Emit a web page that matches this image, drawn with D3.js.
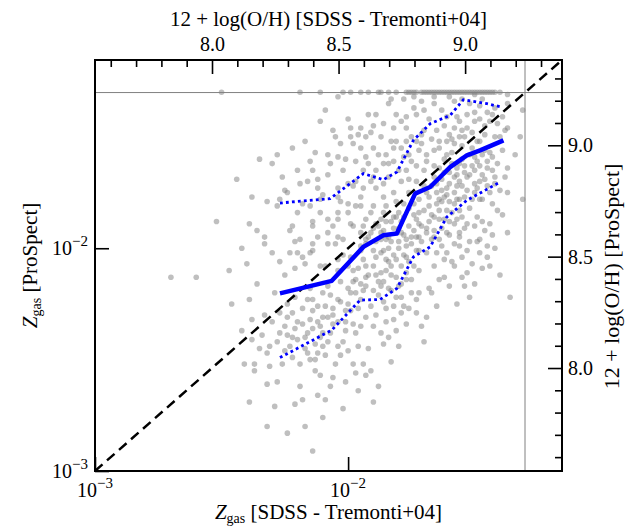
<!DOCTYPE html>
<meta charset="utf-8">
<style>
body { margin: 0; background: #fff; }
text { font-family: "Liberation Serif", "Times New Roman", serif; fill: #000; }
</style>

<svg width="638" height="526"></svg>

<script src="https://d3js.org/d3.v7.min.js"></script>
<script>
// galaxies: [log10 Zgas SDSS (Tremonti+04), log10 Zgas ProSpect]
var galaxies = [
  // pile-up at the ProSpect ceiling (Z = 0.05)
  [-2.50,-1.30],[-2.19,-1.30],[-2.11,-1.30],[-2.02,-1.30],[-1.99,-1.30],[-1.95,-1.30],[-1.88,-1.30],
  [-1.87,-1.30],[-1.81,-1.30],[-1.77,-1.30],[-1.76,-1.30],[-1.74,-1.30],[-1.73,-1.30],[-1.71,-1.30],
  [-1.70,-1.30],[-1.69,-1.30],[-1.67,-1.30],[-1.66,-1.30],[-1.64,-1.30],[-1.63,-1.30],[-1.62,-1.30],
  [-1.60,-1.30],[-1.59,-1.30],[-1.58,-1.30],[-1.56,-1.30],[-1.55,-1.30],[-1.54,-1.30],[-1.53,-1.30],
  [-1.52,-1.30],[-1.51,-1.30],[-1.50,-1.30],[-1.49,-1.30],[-1.48,-1.30],[-1.47,-1.30],[-1.45,-1.30],
  [-1.44,-1.30],[-1.43,-1.30],[-1.40,-1.30],[-1.75,-1.30],[-1.68,-1.30],[-1.65,-1.30],[-1.61,-1.30],
  [-1.57,-1.30],[-1.46,-1.30],[-1.42,-1.30],[-1.84,-1.30],[-1.92,-1.30],
  [-1.60,-1.32],[-1.55,-1.33],[-1.50,-1.31],[-1.66,-1.32],[-1.71,-1.34],[-1.47,-1.33],[-1.78,-1.33],
  // upper part of the cloud
  [-2.04,-1.32],[-2.11,-1.43],[-2.06,-1.47],[-2.17,-1.52],[-2.28,-1.58],[-2.04,-1.59],[-1.99,-1.46],
  [-1.95,-1.46],[-1.91,-1.48],[-1.93,-1.50],[-1.89,-1.40],[-1.84,-1.35],[-1.81,-1.40],[-1.83,-1.33],
  [-1.74,-1.32],[-1.74,-1.37],[-1.73,-1.40],[-1.70,-1.38],[-1.66,-1.35],[-1.68,-1.42],[-1.63,-1.38],
  [-1.61,-1.41],[-1.58,-1.34],[-1.56,-1.43],[-1.52,-1.35],[-1.50,-1.39],[-1.48,-1.42],[-1.45,-1.39],
  [-1.43,-1.40],[-1.41,-1.44],[-1.37,-1.31],[-1.37,-1.35],[-1.31,-1.38],[-1.32,-1.50],[-1.37,-1.46],
  [-1.34,-1.58],[-1.37,-1.64],[-1.37,-1.75],[-1.31,-1.78],[-1.37,-1.93],[-1.48,-1.96],[-1.44,-1.89],
  [-1.41,-1.83],[-1.53,-1.89],[-1.56,-1.83],[-1.57,-1.78],[-1.50,-1.75],[-1.48,-1.70],[-1.43,-1.65],
  [-1.45,-1.61],[-1.50,-1.59],[-1.56,-1.62],[-1.58,-1.68],[-1.61,-1.73],[-1.64,-1.64],[-1.66,-1.56],
  [-1.61,-1.52],[-1.56,-1.50],[-1.53,-1.46],[-1.58,-1.46],[-1.70,-1.47],[-1.73,-1.52],[-1.72,-1.56],
  [-1.75,-1.61],[-1.69,-1.61],[-1.79,-1.55],[-1.82,-1.61],[-1.77,-1.65],[-1.73,-1.70],[-1.69,-1.75],
  [-1.66,-1.68],[-1.64,-1.78],[-1.61,-1.83],[-1.66,-1.86],[-1.72,-1.84],[-1.74,-1.80],[-1.78,-1.80],
  [-1.81,-1.86],[-1.82,-1.75],[-1.86,-1.77],[-1.89,-1.73],[-1.91,-1.70],[-1.89,-1.65],[-1.94,-1.65],
  [-1.97,-1.70],[-1.95,-1.77],[-1.91,-1.84],[-1.97,-1.81],[-2.00,-1.80],[-1.99,-1.89],[-1.94,-1.90],
  [-1.89,-1.89],[-1.85,-1.96],[-1.79,-1.93],[-1.77,-1.99],[-1.69,-1.93],[-1.64,-1.96],[-1.61,-1.93],
  [-1.56,-1.95],[-1.53,-2.01],[-1.45,-1.99],[-1.61,-2.02],[-1.69,-2.02],[-1.95,-1.99],[-2.02,-1.96],
  [-2.06,-1.90],[-2.08,-1.87],[-2.04,-1.84],[-2.11,-1.84],[-2.14,-1.90],[-2.22,-1.90],[-2.19,-1.96],
  [-2.14,-2.01],[-2.18,-2.04],[-2.33,-1.95],[-2.28,-1.81],[-2.20,-1.84],[-2.27,-1.78],[-2.32,-1.79],
  [-2.24,-1.75],[-2.19,-1.71],[-2.12,-1.73],[-2.12,-1.69],[-2.08,-1.67],[-2.14,-1.65],[-2.20,-1.65],
  [-2.26,-1.68],[-2.00,-1.71],[-2.04,-1.73],[-2.02,-1.65],[-1.97,-1.61],[-1.93,-1.59],[-1.95,-1.55],
  [-1.90,-1.55],[-1.87,-1.50],[-1.90,-1.45],[-1.85,-1.58],[-1.82,-1.46],[-1.77,-1.46],[-1.79,-1.43],
  [-1.77,-1.41],[-1.98,-1.53],[-1.99,-1.50],[-1.81,-1.52],[-1.77,-1.52],[-2.03,-1.53],[-2.08,-1.58],
  [-2.15,-1.61],[-2.04,-1.77],[-2.11,-1.78],[-2.15,-1.81],[-2.44,-1.69],
  [-2.30,-1.62],[-2.25,-1.74],[-2.22,-1.55],[-2.18,-1.80],[-2.16,-1.70],[-2.13,-1.57],[-2.10,-1.76],
  [-2.07,-1.62],[-2.05,-1.50],[-2.03,-1.79],[-2.01,-1.60],[-1.98,-1.72],[-1.96,-1.49],[-2.09,-1.38],
  [-2.00,-1.42],[-1.92,-1.40],[-1.86,-1.44],[-2.14,-1.88],[-2.23,-1.92],[-2.38,-1.77],[-2.42,-2.00],
  [-2.47,-2.10],[-2.52,-1.88],[-2.35,-1.60],
  // lower part of the cloud
  [-2.70,-2.13],[-2.60,-2.13],[-2.39,-1.89],[-2.36,-1.92],[-2.33,-1.98],[-2.40,-2.07],[-2.36,-2.16],
  [-2.46,-2.25],[-2.39,-2.23],[-2.38,-2.32],[-2.42,-2.37],[-2.34,-2.39],[-2.38,-2.41],[-2.41,-2.52],
  [-2.37,-2.52],[-2.37,-2.55],[-2.31,-2.53],[-2.32,-2.47],[-2.31,-2.44],[-2.27,-2.38],[-2.24,-2.39],
  [-2.25,-2.35],[-2.21,-2.36],[-2.20,-2.41],[-2.25,-2.46],[-2.22,-2.49],[-2.32,-2.61],[-2.39,-2.69],
  [-2.29,-2.71],[-2.21,-2.70],[-2.18,-2.68],[-2.32,-2.80],[-2.24,-2.83],[-2.17,-2.80],[-2.14,-2.91],
  [-2.10,-2.76],[-2.09,-2.68],[-2.07,-2.62],[-2.01,-2.60],[-1.90,-2.69],[-1.88,-2.62],[-1.93,-2.57],
  [-1.91,-2.55],[-1.83,-2.51],[-1.98,-2.52],[-1.94,-2.52],[-2.03,-2.48],[-2.04,-2.44],[-2.08,-2.42],
  [-2.13,-2.50],[-2.15,-2.50],[-2.12,-2.47],[-2.10,-2.44],[-2.13,-2.55],[-2.01,-2.37],[-1.97,-2.38],
  [-1.95,-2.35],[-1.93,-2.31],[-1.90,-2.35],[-1.87,-2.38],[-1.84,-2.40],[-1.86,-2.43],[-1.81,-2.37],
  [-1.77,-2.34],[-1.70,-2.42],[-1.73,-2.29],[-1.69,-2.31],[-1.65,-2.26],[-1.73,-2.23],[-1.68,-2.18],
  [-1.72,-2.20],[-1.62,-2.13],[-1.54,-2.17],[-1.52,-2.22],[-1.58,-2.08],[-1.53,-2.11],[-1.62,-2.05],
  [-1.65,-2.02],[-1.58,-1.98],[-1.49,-1.97],[-1.56,-1.93],[-1.66,-1.95],[-1.72,-1.95],[-1.72,-2.01],
  [-1.74,-2.08],[-1.77,-2.11],[-1.79,-2.16],[-1.83,-2.19],[-1.87,-2.17],[-1.90,-2.19],[-1.94,-2.19],
  [-1.97,-2.20],[-1.97,-2.14],[-1.93,-2.13],[-1.87,-2.11],[-1.83,-2.08],[-1.85,-2.05],[-1.93,-2.08],
  [-1.98,-2.10],[-2.00,-2.08],[-1.99,-2.04],[-1.95,-2.01],[-1.90,-2.01],[-1.87,-1.96],[-1.93,-1.96],
  [-1.95,-1.93],[-1.98,-1.90],[-1.93,-1.87],[-1.87,-1.87],[-1.82,-1.86],[-1.85,-1.81],[-1.90,-1.81],
  [-1.95,-1.81],[-2.00,-1.84],[-2.04,-1.87],[-2.08,-1.93],[-2.04,-1.95],[-2.08,-1.98],[-2.14,-1.98],
  [-2.15,-2.02],[-2.20,-2.02],[-2.23,-2.02],[-2.27,-2.06],[-2.21,-2.09],[-2.11,-2.08],[-2.04,-2.05],
  [-2.04,-2.10],[-2.10,-2.20],[-2.14,-2.23],[-2.04,-2.23],[-2.00,-2.25],[-2.16,-2.23],[-2.24,-2.25],
  [-2.27,-2.29],[-2.22,-2.29],[-2.14,-2.28],[-2.08,-2.31],[-2.15,-2.32],[-2.11,-2.35],[-2.06,-2.34],
  [-2.16,-2.38],[-2.11,-2.40],[-1.82,-2.26],[-1.79,-2.29],[-1.82,-2.32],[-1.75,-2.20],[-1.66,-2.08],
  [-1.36,-2.22],[-1.44,-2.08],[-1.40,-2.12],[-1.48,-1.78],
  [-2.24,-2.31],[-2.23,-2.44],[-2.21,-2.22],[-2.20,-2.33],[-2.19,-2.52],[-2.18,-2.27],[-2.17,-2.40],
  [-2.16,-2.47],[-2.15,-2.18],[-2.14,-2.36],[-2.13,-2.43],[-2.12,-2.26],[-2.11,-2.57],[-2.10,-2.31],
  [-2.09,-2.48],[-2.08,-2.17],[-2.07,-2.38],[-2.06,-2.27],[-2.05,-2.52],[-2.04,-2.33],[-2.03,-2.15],
  [-2.02,-2.42],[-2.01,-2.28],[-2.00,-2.46],[-1.99,-2.20],[-1.98,-2.34],[-1.97,-2.56],[-1.96,-2.27],
  [-1.96,-2.44],[-1.95,-2.16],[-2.02,-2.03],[-2.05,-1.98],[-2.09,-2.08],[-2.12,-1.95],[-2.17,-2.07],
  [-2.21,-1.97],[-2.25,-2.12],[-2.30,-2.02],[-2.29,-2.20],[-2.33,-2.30],[-2.35,-2.45],[-2.28,-2.60],
  [-2.26,-2.52],[-2.19,-2.62],[-2.12,-2.66],[-2.06,-2.58],[-2.02,-2.72],[-1.96,-2.64],[-1.92,-2.45],
  [-1.89,-2.30],[-1.85,-2.33],[-1.80,-2.44],[-1.76,-2.27],[-1.71,-2.35],[-1.67,-2.20],[-1.64,-2.14],
  [-1.60,-2.17],[-1.57,-2.25],[-1.55,-2.13],[-1.50,-2.16],[-1.47,-2.09],[-1.42,-2.00],
  // dense core
  [-1.70,-1.65],[-1.67,-1.72],[-1.63,-1.69],[-1.60,-1.66],[-1.57,-1.72],[-1.54,-1.66],[-1.52,-1.58],
  [-1.55,-1.54],[-1.59,-1.57],[-1.62,-1.60],[-1.65,-1.80],[-1.60,-1.88],[-1.58,-1.80],[-1.55,-1.86],
  [-1.63,-1.91],[-1.68,-1.88],[-1.71,-1.90],[-1.75,-1.95],[-1.78,-2.03],[-1.80,-1.97],[-1.84,-2.00],
  [-1.86,-1.92],[-1.80,-1.84],[-1.76,-1.75],[-1.72,-1.78],[-1.79,-1.70],[-1.84,-1.68],[-1.86,-1.62],
  [-1.82,-1.55],[-1.76,-1.58],[-1.71,-1.49],[-1.65,-1.47],[-1.60,-1.49],[-1.49,-1.52],[-1.46,-1.56],
  [-1.71,-1.53],[-1.69,-1.58],[-1.67,-1.51],[-1.66,-1.63],[-1.64,-1.55],[-1.63,-1.74],[-1.62,-1.66],
  [-1.61,-1.58],[-1.60,-1.79],[-1.59,-1.62],[-1.58,-1.53],[-1.57,-1.64],[-1.57,-1.87],[-1.56,-1.70],
  [-1.55,-1.60],[-1.54,-1.77],[-1.54,-1.50],[-1.53,-1.68],[-1.52,-1.82],[-1.51,-1.63],[-1.51,-1.55],
  [-1.50,-1.71],[-1.49,-1.86],[-1.49,-1.61],[-1.48,-1.52],[-1.47,-1.67],[-1.47,-1.78],[-1.46,-1.45],
  [-1.46,-1.92],[-1.45,-1.72],[-1.44,-1.57],[-1.43,-1.80],[-1.42,-1.50],[-1.42,-1.68],[-1.41,-1.62],
  [-1.40,-1.74],[-1.39,-1.56],[-1.39,-1.85],[-1.38,-1.47],[-1.38,-1.68],
  [-1.70,-1.72],[-1.68,-1.81],[-1.67,-1.96],[-1.65,-1.71],[-1.64,-1.87],[-1.63,-1.99],[-1.62,-1.77],
  [-1.60,-1.94],[-1.59,-2.06],[-1.58,-1.89],[-1.56,-1.99],[-1.55,-2.04],[-1.54,-1.91],[-1.52,-1.97],
  [-1.51,-2.07],[-1.50,-1.90],[-1.48,-2.02],[-1.47,-1.88],[-1.45,-2.04],[-1.43,-1.94],
  [-1.94,-2.05],[-1.93,-1.98],[-1.92,-2.12],[-1.91,-1.93],[-1.90,-2.08],[-1.89,-1.97],[-1.88,-2.15],
  [-1.88,-1.90],[-1.87,-2.02],[-1.86,-2.24],[-1.86,-1.84],[-1.85,-2.10],[-1.84,-1.95],[-1.84,-2.18],
  [-1.83,-1.88],[-1.82,-2.03],[-1.81,-2.13],[-1.81,-1.79],[-1.80,-1.91],[-1.79,-2.08],[-1.79,-2.22],
  [-1.78,-1.86],[-1.77,-1.96],[-1.76,-2.06],[-1.76,-1.82],[-1.75,-2.14],[-1.74,-1.92],[-1.73,-2.01],
  [-1.73,-1.87],[-1.72,-2.10],[-1.94,-1.73],[-1.92,-1.62],[-1.90,-1.68],[-1.88,-1.58],[-1.86,-1.71],
  [-1.84,-1.62],[-1.83,-1.52],[-1.80,-1.65],[-1.78,-1.59],[-1.76,-1.69],[-1.75,-1.50],[-1.73,-1.63],
  [-1.92,-1.95],[-1.90,-1.91],[-1.89,-2.04],[-1.87,-1.93],[-1.86,-2.01],[-1.85,-1.88],[-1.84,-2.06],
  [-1.83,-1.97],[-1.82,-1.91],[-1.81,-2.05],[-1.80,-2.00],[-1.79,-1.88],[-1.78,-1.94],[-1.77,-2.04],
  [-1.76,-1.90],[-1.75,-1.98],[-1.74,-1.85],[-1.73,-1.95],[-1.72,-1.89],[-1.71,-1.97],[-1.70,-1.83],
  [-1.69,-1.91],[-1.68,-1.77],[-1.67,-1.85],[-1.66,-1.92],[-1.65,-1.75],[-1.64,-1.83],[-1.63,-1.79],
  [-1.62,-1.87],[-1.61,-1.76],[-1.60,-1.71],[-1.59,-1.84],[-1.58,-1.75],[-1.57,-1.67],[-1.56,-1.78],
  [-1.55,-1.72],[-1.54,-1.63],[-1.53,-1.74],[-1.52,-1.67],[-1.51,-1.78],[-1.50,-1.65],[-1.49,-1.73],
  [-1.48,-1.63],[-1.47,-1.58],[-1.46,-1.69],[-1.45,-1.64],[-1.44,-1.75],[-1.43,-1.59],[-1.42,-1.71],
  [-1.98,-2.15],[-1.96,-2.09],[-1.95,-2.23],[-1.93,-2.17],[-1.91,-2.26],[-1.89,-2.12],[-1.88,-2.21],
  [-1.86,-2.15],[-1.85,-2.27],[-1.83,-2.12],[-1.81,-2.22],[-1.80,-2.17],[-1.78,-2.26],[-1.77,-2.14],
  [-2.09,-2.26],[-2.07,-2.21],[-2.06,-2.30],[-2.03,-2.24],[-2.01,-2.33],[-2.00,-2.18],[-1.99,-2.28],
  [-2.12,-2.33],[-2.10,-2.38],[-2.18,-2.34],[-2.17,-2.45],[-2.22,-2.40],[-2.28,-2.42],[-2.30,-2.33],
  [-1.64,-1.52],[-1.62,-1.45],[-1.59,-1.51],[-1.57,-1.41],[-1.55,-1.47],[-1.53,-1.40],[-1.51,-1.48],
  [-1.50,-1.43],[-1.48,-1.36],[-1.46,-1.49],[-1.44,-1.43],[-1.42,-1.37],[-1.40,-1.50],[-1.39,-1.41]
]

// binned median and 16th / 84th percentiles
var medX = [0.00538, 0.00862, 0.01149, 0.01379, 0.01558, 0.01840, 0.02109, 0.02530, 0.02945, 0.03323, 0.04110]
var medY = [0.00627, 0.00714, 0.01014, 0.01144, 0.01164, 0.01759, 0.01883, 0.02315, 0.02612, 0.02751, 0.03051]
var hiX = [0.00538, 0.00849, 0.01149, 0.01379, 0.01558, 0.01811, 0.02109, 0.02530, 0.02855, 0.03532, 0.04050]
var hiY = [0.01596, 0.01670, 0.02163, 0.02032, 0.02199, 0.03051, 0.03624, 0.03949, 0.04644, 0.04456, 0.04302]
var loX = [0.00538, 0.00862, 0.01115, 0.01338, 0.01558, 0.01811, 0.02109, 0.02455, 0.02945, 0.03988]
var loY = [0.00323, 0.00429, 0.00585, 0.00589, 0.00660, 0.00914, 0.01014, 0.01381, 0.01641, 0.01983]

var zLim = [1e-3, 0.07]
var zCeiling = 0.05
var logTicks = [1e-3, 1e-2]
var ohMajor = [8.0, 8.5, 9.0]

// Z -> 12 + log(O/H), solar 0.0142 <-> 8.69
function toOH(z) { return 8.69 + Math.log10(z / 0.0142) }

var margin = { left: 95, right: 562, top: 60, bottom: 471 }

var svg = d3.select('svg')

var x = d3.scaleLog().domain(zLim).range([margin.left, margin.right])
var y = d3.scaleLog().domain(zLim).range([margin.bottom, margin.top])
var xOH = d3.scaleLinear().domain(zLim.map(toOH)).range([margin.left, margin.right])
var yOH = d3.scaleLinear().domain(zLim.map(toOH)).range([margin.bottom, margin.top])

svg.append('clipPath').attr('id', 'plot')
  .append('rect')
  .attr('x', margin.left).attr('y', margin.top)
  .attr('width', margin.right - margin.left).attr('height', margin.bottom - margin.top)

var plot = svg.append('g').attr('clip-path', 'url(#plot)')

// ceiling lines
plot.append('line')
  .attr('x1', x(zCeiling)).attr('x2', x(zCeiling))
  .attr('y1', margin.top).attr('y2', margin.bottom)
  .attr('stroke', '#808080').attr('stroke-width', 1)
plot.append('line')
  .attr('x1', margin.left).attr('x2', margin.right)
  .attr('y1', y(zCeiling)).attr('y2', y(zCeiling))
  .attr('stroke', '#808080').attr('stroke-width', 1)

plot.append('g').selectAll('circle')
  .data(galaxies)
  .enter().append('circle')
  .attr('cx', function (d) { return x(Math.pow(10, d[0])) })
  .attr('cy', function (d) { return y(Math.pow(10, d[1])) })
  .attr('r', 2.8)
  .attr('fill', '#808080')
  .attr('fill-opacity', 0.5)

// one-to-one
plot.append('line')
  .attr('x1', x(zLim[0])).attr('y1', y(zLim[0]))
  .attr('x2', x(zLim[1])).attr('y2', y(zLim[1]))
  .attr('stroke', '#000').attr('stroke-width', 2.5)
  .attr('stroke-dasharray', '10,6')

var line = d3.line()
  .x(function (d) { return x(d[0]) })
  .y(function (d) { return y(d[1]) })

plot.append('path')
  .attr('d', line(d3.zip(medX, medY)))
  .attr('fill', 'none').attr('stroke', '#0000ff').attr('stroke-width', 4.5)
  .attr('stroke-linejoin', 'round')

;[[hiX, hiY], [loX, loY]].forEach(function (p) {
  plot.append('path')
    .attr('d', line(d3.zip(p[0], p[1])))
    .attr('fill', 'none').attr('stroke', '#0000ff').attr('stroke-width', 2.8)
    .attr('stroke-dasharray', '2.8,3.2')
})

// frame
svg.append('rect')
  .attr('x', margin.left).attr('y', margin.top)
  .attr('width', margin.right - margin.left).attr('height', margin.bottom - margin.top)
  .attr('fill', 'none').attr('stroke', '#000').attr('stroke-width', 2)

// ticks (all pointing inward)
function ohMinor() {
  return d3.range(76, 94).map(function (v) { return v / 10 })
    .filter(function (v) { return ohMajor.indexOf(v) < 0 })
}

function tickAxis(g, axis) {
  g.call(axis)
  g.select('.domain').remove()
  g.selectAll('line').attr('stroke', '#000').attr('stroke-width', 1.6)
}

svg.append('g').attr('transform', 'translate(0,' + margin.top + ')')
  .call(tickAxis, d3.axisTop(xOH).tickValues(ohMinor()).tickSize(-7).tickFormat(''))
svg.append('g').attr('transform', 'translate(0,' + margin.top + ')')
  .call(tickAxis, d3.axisTop(xOH).tickValues(ohMajor).tickSize(-14).tickPadding(9).tickFormat(d3.format('.1f')))
svg.append('g').attr('transform', 'translate(' + margin.right + ',0)')
  .call(tickAxis, d3.axisRight(yOH).tickValues(ohMinor()).tickSize(-7).tickFormat(''))
svg.append('g').attr('transform', 'translate(' + margin.right + ',0)')
  .call(tickAxis, d3.axisRight(yOH).tickValues(ohMajor).tickSize(-14).tickPadding(6).tickFormat(d3.format('.1f')))
svg.append('g').attr('transform', 'translate(0,' + margin.bottom + ')')
  .call(tickAxis, d3.axisBottom(x).tickValues(logTicks).tickSize(-14).tickFormat(''))
svg.append('g').attr('transform', 'translate(' + margin.left + ',0)')
  .call(tickAxis, d3.axisLeft(y).tickValues(logTicks).tickSize(-14).tickFormat(''))

svg.selectAll('.tick text').attr('font-size', 20).attr('font-family', '"Liberation Serif", serif').attr('fill', '#000')

// 10^n labels for the log axes
function powLabel(g, v) {
  var e = Math.round(Math.log10(v))
  g.append('tspan').text('10')
  g.append('tspan').attr('dy', -9).attr('font-size', 15).text('\u2212' + (-e))
}

logTicks.forEach(function (v) {
  svg.append('text')
    .attr('x', x(v)).attr('y', 497)
    .attr('text-anchor', 'middle').attr('font-size', 20)
    .call(powLabel, v)
  svg.append('text')
    .attr('x', margin.left - 7).attr('y', y(v) + 7)
    .attr('text-anchor', 'end').attr('font-size', 20)
    .call(powLabel, v)
})

// axis titles
var xt = svg.append('text')
  .attr('x', (margin.left + margin.right) / 2).attr('y', 519)
  .attr('text-anchor', 'middle').attr('font-size', 21)
xt.append('tspan').attr('font-style', 'italic').text('Z')
xt.append('tspan').attr('font-size', 14).attr('dy', 4).text('gas')
xt.append('tspan').attr('dy', -4).text(' [SDSS - Tremonti+04]')

var yt = svg.append('text')
  .attr('transform', 'translate(37,' + (margin.top + margin.bottom) / 2 + ') rotate(-90)')
  .attr('text-anchor', 'middle').attr('font-size', 21)
yt.append('tspan').attr('font-style', 'italic').text('Z')
yt.append('tspan').attr('font-size', 14).attr('dy', 4).text('gas')
yt.append('tspan').attr('dy', -4).text(' [ProSpect]')

svg.append('text')
  .attr('x', (margin.left + margin.right) / 2).attr('y', 26)
  .attr('text-anchor', 'middle').attr('font-size', 21)
  .text('12 + log(O/H) [SDSS - Tremonti+04]')

svg.append('text')
  .attr('transform', 'translate(619,' + ((margin.top + margin.bottom) / 2 + 11) + ') rotate(-90)')
  .attr('text-anchor', 'middle').attr('font-size', 22)
  .text('12 + log(O/H) [ProSpect]')
</script>
